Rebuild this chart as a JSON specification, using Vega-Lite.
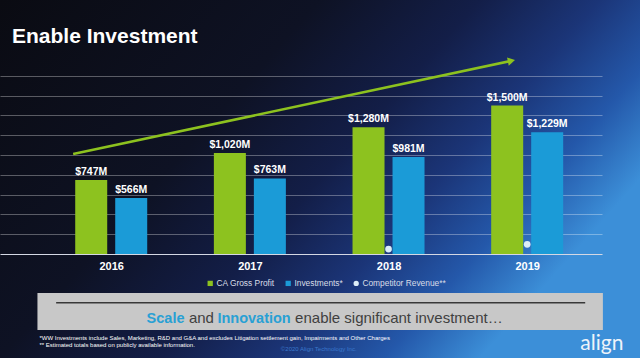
{
  "$schema": "https://vega.github.io/schema/vega-lite/v6.json",
  "width": 640,
  "height": 358,
  "autosize": {"type": "none"},
  "padding": 0,
  "background": "#0b0c14",
  "config": {
    "font": "Liberation Sans",
    "view": {
      "stroke": null,
      "fill": {
        "gradient": "linear", "x1": 0, "y1": 0, "x2": 1, "y2": 0.5,
        "stops": [
          {"offset": 0, "color": "#0a0b12"},
          {"offset": 0.4, "color": "#0e1224"},
          {"offset": 0.6, "color": "#131e48"},
          {"offset": 0.75, "color": "#1b3578"},
          {"offset": 0.88, "color": "#2458aa"},
          {"offset": 1, "color": "#3c8fd8"}
        ]
      }
    }
  },
  "title": {
    "text": "Enable Investment",
    "anchor": "start",
    "frame": "group",
    "font": "Liberation Sans",
    "fontSize": 21,
    "fontWeight": "bold",
    "color": "#ffffff",
    "offset": 0,
    "dx": 12,
    "dy": 47
  },
  "datasets": {
    "revenue": [
      {"year": 2016, "series": "CA Gross Profit", "value": 747, "label": "$747M"},
      {"year": 2016, "series": "Investments*", "value": 566, "label": "$566M"},
      {"year": 2017, "series": "CA Gross Profit", "value": 1020, "label": "$1,020M"},
      {"year": 2017, "series": "Investments*", "value": 763, "label": "$763M"},
      {"year": 2018, "series": "CA Gross Profit", "value": 1280, "label": "$1,280M"},
      {"year": 2018, "series": "Investments*", "value": 981, "label": "$981M"},
      {"year": 2018, "series": "Competitor Revenue**", "value": 50, "label": ""},
      {"year": 2019, "series": "CA Gross Profit", "value": 1500, "label": "$1,500M"},
      {"year": 2019, "series": "Investments*", "value": 1229, "label": "$1,229M"},
      {"year": 2019, "series": "Competitor Revenue**", "value": 98, "label": ""}
    ]
  },
  "layer": [
    {
      "data": {"name": "revenue"},
      "transform": [{"filter": "datum.series === 'CA Gross Profit'"}],
      "mark": {"type": "bar", "orient": "vertical", "width": 32, "xOffset": -20},
      "encoding": {
        "x": {
          "field": "year", "type": "quantitative",
          "scale": {"domain": [2015.234, 2019.5035], "range": [0, 602], "nice": false, "zero": false},
          "axis": {
            "title": null, "values": [2016, 2017, 2018, 2019], "format": "d",
            "labelFlush": false, "labelOverlap": false, "ticks": false, "grid": false,
            "offset": -104, "labelPadding": 6,
            "labelFont": "Liberation Sans", "labelFontWeight": "bold", "labelFontSize": 11, "labelColor": "#ffffff",
            "domainColor": "#d4d8e4", "domainWidth": 1
          }
        },
        "y": {
          "field": "value", "type": "quantitative",
          "scale": {"domain": [0, 2000], "range": [254, 56], "nice": false, "zero": false},
          "axis": {
            "title": null, "values": [200, 400, 600, 800, 1000, 1200, 1400, 1600, 1800],
            "labels": false, "ticks": false, "domain": false, "grid": true,
            "gridColor": "#ffffff", "gridOpacity": 0.32, "gridWidth": 1
          }
        },
        "color": {
          "field": "series", "type": "nominal",
          "scale": {
            "domain": ["CA Gross Profit", "Investments*", "Competitor Revenue**"],
            "range": ["#8dc21f", "#1b9bd7", "#dceef8"]
          },
          "legend": {
            "orient": "none", "legendX": 206, "legendY": 279, "direction": "horizontal",
            "title": null, "padding": 0,
            "labelFont": "Liberation Sans", "labelFontSize": 8.4, "labelColor": "#d8dde8",
            "labelOffset": 2, "columnPadding": 9, "symbolSize": 28, "symbolType": "square",
            "symbolStrokeWidth": 0,
            "encode": {
              "symbols": {
                "update": {
                  "shape": {"signal": "datum.value === 'Competitor Revenue**' ? 'circle' : 'square'"}
                }
              }
            }
          }
        }
      }
    },
    {
      "data": {"name": "revenue"},
      "transform": [{"filter": "datum.series === 'Investments*'"}],
      "mark": {"type": "bar", "orient": "vertical", "width": 32, "xOffset": 20},
      "encoding": {
        "x": {"field": "year", "type": "quantitative"},
        "y": {"field": "value", "type": "quantitative"},
        "color": {"field": "series", "type": "nominal"}
      }
    },
    {
      "data": {"name": "revenue"},
      "transform": [{"filter": "datum.series === 'CA Gross Profit'"}],
      "mark": {"type": "text", "xOffset": -20, "dy": -5, "baseline": "alphabetic", "align": "center",
               "font": "Liberation Sans", "fontWeight": "bold", "fontSize": 10.5, "color": "#ffffff"},
      "encoding": {
        "x": {"field": "year", "type": "quantitative"},
        "y": {"field": "value", "type": "quantitative"},
        "text": {"field": "label"}
      }
    },
    {
      "data": {"name": "revenue"},
      "transform": [{"filter": "datum.series === 'Investments*'"}],
      "mark": {"type": "text", "xOffset": 20, "dy": -5, "baseline": "alphabetic", "align": "center",
               "font": "Liberation Sans", "fontWeight": "bold", "fontSize": 10.5, "color": "#ffffff"},
      "encoding": {
        "x": {"field": "year", "type": "quantitative"},
        "y": {"field": "value", "type": "quantitative"},
        "text": {"field": "label"}
      }
    },
    {
      "data": {"name": "revenue"},
      "transform": [{"filter": "datum.series === 'Competitor Revenue**'"}],
      "mark": {"type": "point", "shape": "circle", "filled": true, "size": 45, "opacity": 1},
      "encoding": {
        "x": {"field": "year", "type": "quantitative"},
        "y": {"field": "value", "type": "quantitative"},
        "color": {"field": "series", "type": "nominal"}
      }
    },
    {
      "data": {"values": [{}]},
      "mark": {"type": "rule", "color": "#8dc21f", "strokeWidth": 2.5},
      "encoding": {
        "x": {"datum": 2015.7255}, "y": {"datum": 1010},
        "x2": {"datum": 2018.8865}, "y2": {"datum": 1951.5}
      }
    },
    {
      "data": {"values": [{}]},
      "mark": {"type": "point", "shape": "triangle-right", "filled": true, "size": 70, "angle": -11.8,
               "color": "#8dc21f", "opacity": 1},
      "encoding": {"x": {"datum": 2018.8865}, "y": {"datum": 1951.5}}
    },
    {
      "data": {"values": [{}]},
      "mark": {"type": "rect", "color": "#c8c8c8"},
      "encoding": {
        "x": {"datum": 2015.468}, "x2": {"datum": 2019.546},
        "y": {"datum": -394}, "y2": {"datum": -767.7}
      }
    },
    {
      "data": {"values": [{}]},
      "mark": {"type": "rule", "color": "#383838", "strokeWidth": 1.5},
      "encoding": {
        "x": {"datum": 2015.6028}, "x2": {"datum": 2019.4184},
        "y": {"datum": -492}
      }
    },
    {
      "data": {"values": [{}]},
      "mark": {"type": "text", "text": "Scale", "align": "left", "baseline": "alphabetic",
               "font": "Liberation Sans", "fontWeight": "bold", "fontSize": 14.5, "color": "#28a0d4"},
      "encoding": {"x": {"datum": 2016.2553}, "y": {"datum": -697}}
    },
    {
      "data": {"values": [{}]},
      "mark": {"type": "text", "text": "and", "align": "left", "baseline": "alphabetic",
               "font": "Liberation Sans", "fontSize": 15, "color": "#404040"},
      "encoding": {"x": {"datum": 2016.5603}, "y": {"datum": -697}}
    },
    {
      "data": {"values": [{}]},
      "mark": {"type": "text", "text": "Innovation", "align": "left", "baseline": "alphabetic",
               "font": "Liberation Sans", "fontWeight": "bold", "fontSize": 14.5, "color": "#28a0d4"},
      "encoding": {"x": {"datum": 2016.766}, "y": {"datum": -697}}
    },
    {
      "data": {"values": [{}]},
      "mark": {"type": "text", "text": "enable significant investment\u2026", "align": "left", "baseline": "alphabetic",
               "font": "Liberation Sans", "fontSize": 15, "color": "#404040"},
      "encoding": {"x": {"datum": 2017.3262}, "y": {"datum": -697}}
    },
    {
      "data": {"values": [{}]},
      "mark": {"type": "text", "text": "*WW Investments include Sales, Marketing, R&D and G&A and excludes Litigation settlement gain, Impairments and Other Charges",
               "align": "left", "baseline": "middle", "font": "Liberation Sans", "fontSize": 6, "color": "#ffffff"},
      "encoding": {"x": {"datum": 2015.4822}, "y": {"datum": -851.5}}
    },
    {
      "data": {"values": [{}]},
      "mark": {"type": "text", "text": "** Estimated totals based on publicly available information.",
               "align": "left", "baseline": "middle", "font": "Liberation Sans", "fontSize": 6, "color": "#ffffff"},
      "encoding": {"x": {"datum": 2015.4822}, "y": {"datum": -922.2}}
    },
    {
      "data": {"values": [{}]},
      "mark": {"type": "text", "text": "\u00a92020 Align Technology Inc.",
               "align": "center", "baseline": "middle", "font": "Liberation Sans", "fontSize": 6, "color": "#3a78cc"},
      "encoding": {"x": {"datum": 2017.4965}, "y": {"datum": -962.6}}
    },
    {
      "data": {"values": [{}]},
      "mark": {"type": "text", "text": "align",
               "align": "left", "baseline": "alphabetic", "font": "Lato", "fontSize": 21, "color": "#eef3fa"},
      "encoding": {"x": {"datum": 2019.383}, "y": {"datum": -969.7}}
    }
  ]
}
